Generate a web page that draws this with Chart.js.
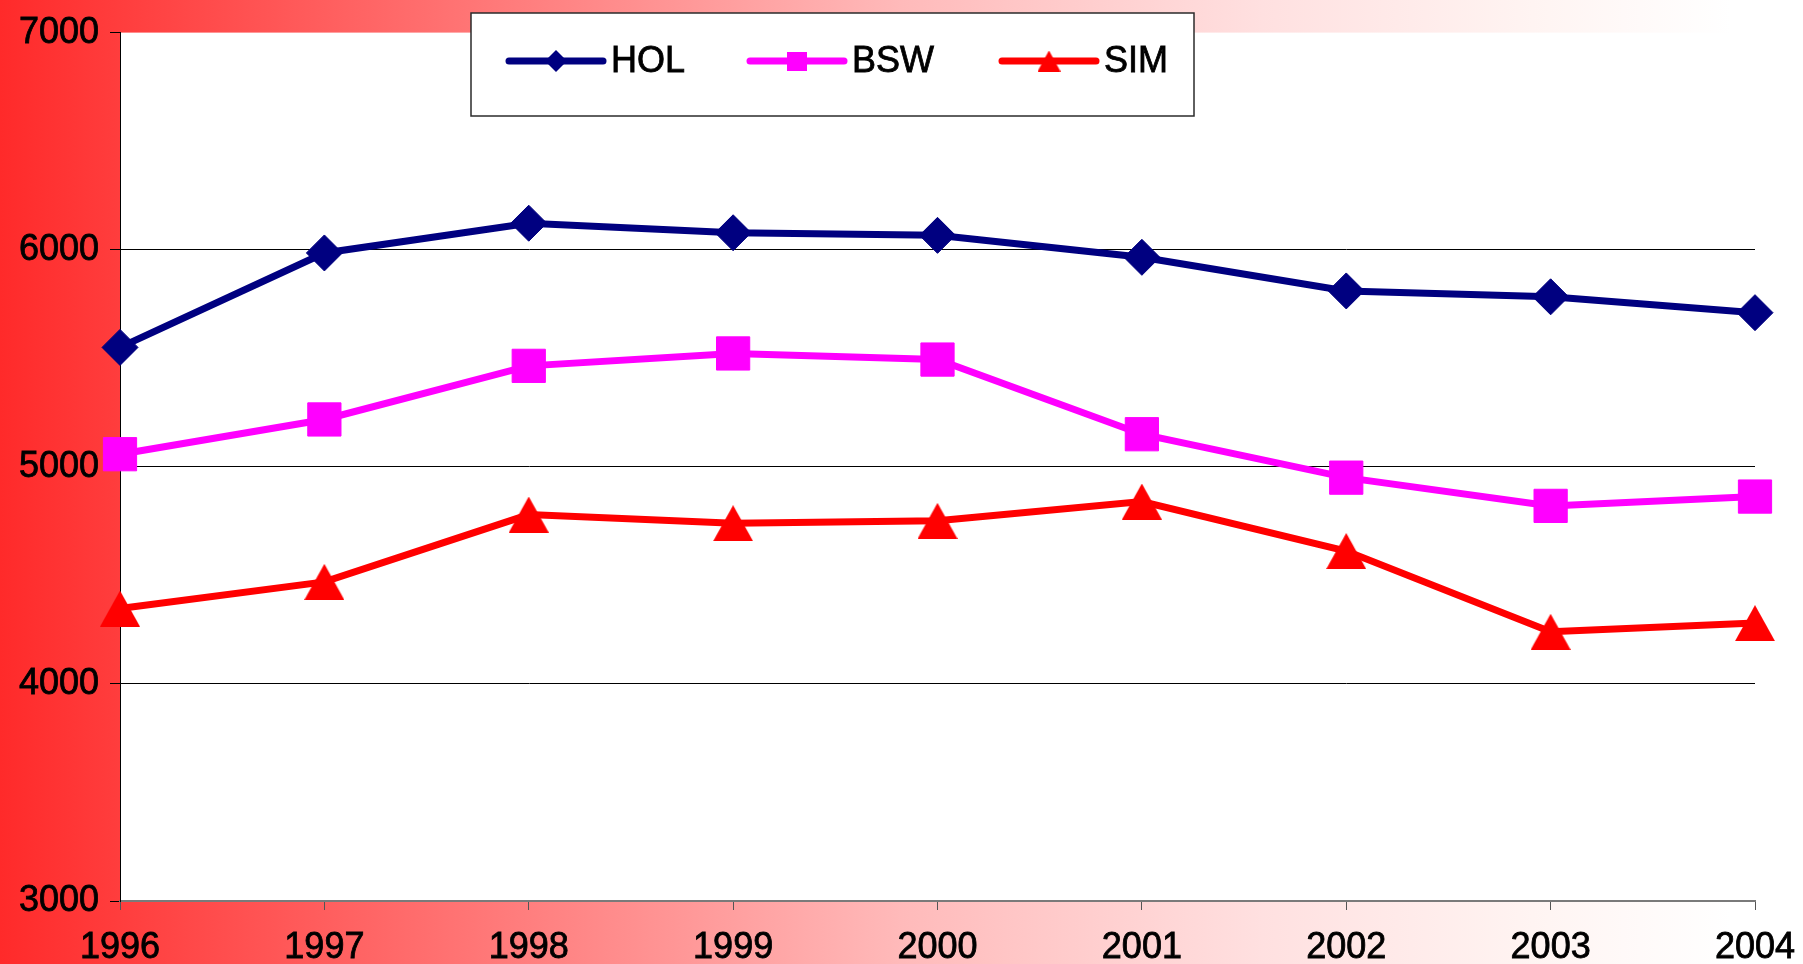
<!DOCTYPE html>
<html>
<head>
<meta charset="utf-8">
<title>HOL / BSW / SIM 1996-2004</title>
<script src="https://cdn.jsdelivr.net/npm/chart.js@4.4.1/dist/chart.umd.min.js"></script>
<style>
  html, body { margin: 0; padding: 0; background: #fff; }
  #wrap { width: 1803px; height: 964px; }
</style>
</head>
<body>
<div id="wrap"><canvas id="chart" width="1803" height="964"></canvas></div>
<script>
const years = ['1996', '1997', '1998', '1999', '2000', '2001', '2002', '2003', '2004'];
const hol = [5550, 5985, 6122, 6078, 6066, 5965, 5810, 5783, 5710];
const bsw = [5058, 5218, 5465, 5522, 5494, 5150, 4950, 4820, 4863];
const sim = [4347, 4470, 4780, 4740, 4751, 4840, 4612, 4240, 4280];
const yMin = 3000;
const yMax = 7000;
const yStep = 1000;

const FONT = 'Liberation Sans, Arial, sans-serif';

// triangle centred in its own box (the old spreadsheet marker), not on its circumcentre
function triangleMarker(w, h, color) {
  const c = document.createElement('canvas');
  c.width = w;
  c.height = h;
  const g = c.getContext('2d');
  g.fillStyle = color;
  g.beginPath();
  g.moveTo(w / 2, 0);
  g.lineTo(w, h);
  g.lineTo(0, h);
  g.closePath();
  g.fill();
  return c;
}

const simPoint = triangleMarker(40, 36, '#ff0000');
const simLegendPoint = triangleMarker(23, 21, '#ff0000');

// red-to-white wash behind everything, white plot area on top
const pageBackground = {
  id: 'pageBackground',
  beforeDraw(chart) {
    const { ctx, width, height, chartArea } = chart;
    ctx.save();
    const grad = ctx.createLinearGradient(0, 0, width, 0);
    grad.addColorStop(0, '#ff2a2a');
    grad.addColorStop(0.25, '#ff7272');
    grad.addColorStop(0.5, '#ffbaba');
    grad.addColorStop(0.7, '#ffe0e0');
    grad.addColorStop(0.85, '#fff4f2');
    grad.addColorStop(0.96, '#ffffff');
    ctx.fillStyle = grad;
    ctx.fillRect(0, 0, width, height);
    ctx.fillStyle = '#ffffff';
    ctx.fillRect(chartArea.left, chartArea.top, chartArea.right - chartArea.left, chartArea.bottom - chartArea.top);
    ctx.restore();
  }
};

// boxed legend sitting over the top of the plot
const boxLegend = {
  id: 'boxLegend',
  afterDraw(chart) {
    const ctx = chart.ctx;
    const box = { x: 471, y: 13, w: 723, h: 103 };
    const starts = [509, 750, 1002];
    const rowY = 61;
    ctx.save();
    ctx.fillStyle = '#ffffff';
    ctx.fillRect(box.x, box.y, box.w, box.h);
    ctx.strokeStyle = '#2b2b2b';
    ctx.lineWidth = 1.5;
    ctx.strokeRect(box.x, box.y, box.w, box.h);

    chart.data.datasets.forEach((ds, i) => {
      const x0 = starts[i];
      const mid = x0 + 47;
      ctx.strokeStyle = ds.borderColor;
      ctx.lineWidth = 7;
      ctx.lineCap = 'round';
      ctx.beginPath();
      ctx.moveTo(x0, rowY);
      ctx.lineTo(x0 + 94, rowY);
      ctx.stroke();

      ctx.fillStyle = ds.borderColor;
      if (ds.label === 'HOL') {
        ctx.beginPath();
        ctx.moveTo(mid, rowY - 11);
        ctx.lineTo(mid + 11, rowY);
        ctx.lineTo(mid, rowY + 11);
        ctx.lineTo(mid - 11, rowY);
        ctx.closePath();
        ctx.fill();
      } else if (ds.label === 'BSW') {
        ctx.fillRect(mid - 10, rowY - 9, 20, 19);
      } else {
        ctx.drawImage(simLegendPoint, mid - 11.5, rowY - 10.5);
      }

      ctx.fillStyle = '#000';
      ctx.strokeStyle = '#000';
      ctx.lineWidth = 0.8;
      ctx.lineCap = 'butt';
      ctx.font = '36px ' + FONT;
      ctx.textBaseline = 'middle';
      ctx.textAlign = 'left';
      ctx.fillText(ds.label, x0 + 102, rowY + 1);
      ctx.strokeText(ds.label, x0 + 102, rowY + 1);
    });
    ctx.restore();
  }
};

const ctx = document.getElementById('chart').getContext('2d');

const chart = new Chart(ctx, {
  type: 'line',
  data: {
    labels: years,
    datasets: [{
      label: 'HOL',
      data: hol,
      borderColor: '#000080',
      backgroundColor: '#000080',
      borderWidth: 7,
      pointStyle: 'rectRot',
      pointRadius: 18,
      pointBorderWidth: 1,
      pointHoverRadius: 18,
      clip: false
    }, {
      label: 'BSW',
      data: bsw,
      borderColor: '#ff00ff',
      backgroundColor: '#ff00ff',
      borderWidth: 7,
      pointStyle: 'rect',
      pointRadius: 23.5,
      pointBorderWidth: 1,
      pointHoverRadius: 23.5,
      clip: false
    }, {
      label: 'SIM',
      data: sim,
      borderColor: '#ff0000',
      backgroundColor: '#ff0000',
      borderWidth: 7,
      pointStyle: simPoint,
      pointRadius: 20,
      pointHoverRadius: 20,
      clip: false
    }]
  },
  options: {
    responsive: false,
    animation: false,
    events: [],
    layout: {
      padding: { top: 28, right: 48, left: 0, bottom: 0 }
    },
    plugins: {
      legend: { display: false },
      tooltip: { enabled: false }
    },
    scales: {
      x: {
        offset: false,
        afterFit(scale) {
          scale.height = 63;
          // labels may hang past the plot edges, as in the original
          scale.paddingLeft = 0;
          scale.paddingRight = 0;
        },
        grid: {
          drawOnChartArea: false,
          drawTicks: true,
          tickLength: 9,
          color: '#555',
          tickColor: '#555'
        },
        border: { color: '#7a7a7a', width: 2 },
        ticks: {
          color: '#000',
          font: { family: FONT, size: 36 },
          textStrokeColor: '#000',
          textStrokeWidth: 0.8,
          padding: 16,
          maxRotation: 0,
          autoSkip: false
        }
      },
      y: {
        min: yMin,
        max: yMax,
        afterFit(scale) { scale.width = 120; },
        grid: {
          color: c => (c.tick && (c.tick.value === yMax || c.tick.value === yMin)) ? 'rgba(0,0,0,0)' : '#000',
          tickColor: '#000',
          lineWidth: 1,
          tickLength: 10
        },
        border: { color: '#000', width: 1 },
        ticks: {
          stepSize: yStep,
          color: '#000',
          font: { family: FONT, size: 36 },
          textStrokeColor: '#000',
          textStrokeWidth: 0.8,
          padding: 11,
          callback: v => String(v)
        }
      }
    }
  },
  plugins: [pageBackground, boxLegend]
});
</script>
</body>
</html>
